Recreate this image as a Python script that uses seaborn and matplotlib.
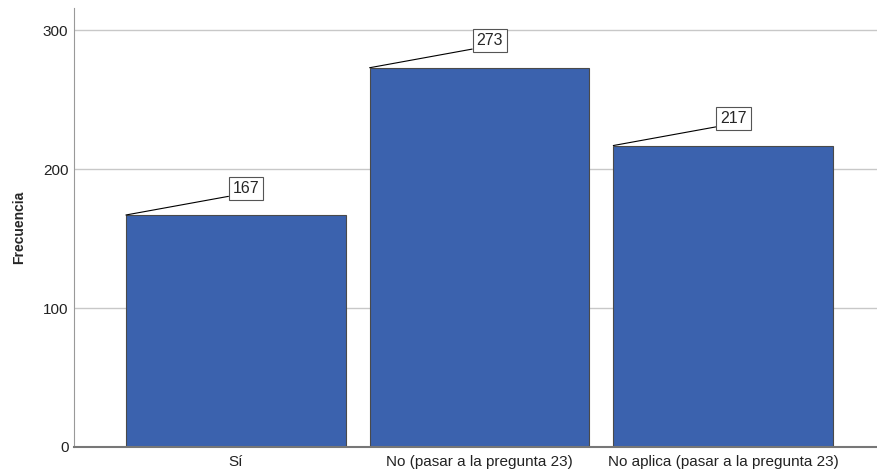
import numpy as np
import pandas as pd
import matplotlib
matplotlib.use("Agg")
import matplotlib.pyplot as plt
import seaborn as sns

# Datos
categorias = ["Sí", "No (pasar a la pregunta 23)", "No aplica (pasar a la pregunta 23)"]
frecuencias = [167, 273, 217]
ticks_y = [0, 100, 200, 300]

df = pd.DataFrame({"categoria": categorias, "frecuencia": frecuencias})

sns.set_style("white")
plt.rcParams["font.family"] = ["Liberation Sans Narrow", "Liberation Sans", "DejaVu Sans"]

fig = plt.figure(figsize=(8.78, 4.71), dpi=100)
ax = fig.add_axes([74 / 878, (471 - 447) / 471, (877 - 74) / 878, (447 - 8) / 471])

ancho = 0.902
ax.set_axisbelow(True)
ax.yaxis.grid(True, color="#c8c8c8", linewidth=1)
sns.barplot(data=df, x="categoria", y="frecuencia", color="#3b62ae",
            saturation=1, width=ancho, edgecolor="#4a4a4a", linewidth=0.8, ax=ax)

# Etiquetas con línea al borde izquierdo de cada barra
for i, v in enumerate(frecuencias):
    ax.annotate(str(v), xy=(i - ancho / 2, v), xytext=(77, 14), textcoords="offset points",
                ha="left", va="bottom", fontsize=11.5,
                bbox=dict(boxstyle="square,pad=0.25", fc="white", ec="#555555", lw=0.8),
                arrowprops=dict(arrowstyle="-", color="black", lw=0.8, relpos=(0, 0),
                                shrinkA=0, shrinkB=0))

ax.set_xlim(-0.664, 2.631)
ax.set_ylim(0, 316)
ax.set_yticks(ticks_y)
ax.set_xlabel("")
ax.set_ylabel("Frecuencia", fontsize=10, fontweight="bold", family=["Liberation Sans", "DejaVu Sans"], labelpad=12)
ax.tick_params(axis="both", length=0, labelsize=11, colors="#222222")
ax.tick_params(axis="x", pad=6)
ax.tick_params(axis="y", pad=4)

sns.despine(ax=ax, top=True, right=True)
ax.spines["left"].set_color("#999999")
ax.spines["bottom"].set_color("#777777")
ax.spines["bottom"].set_linewidth(1.5)

fig.savefig("out.png", dpi=100)
